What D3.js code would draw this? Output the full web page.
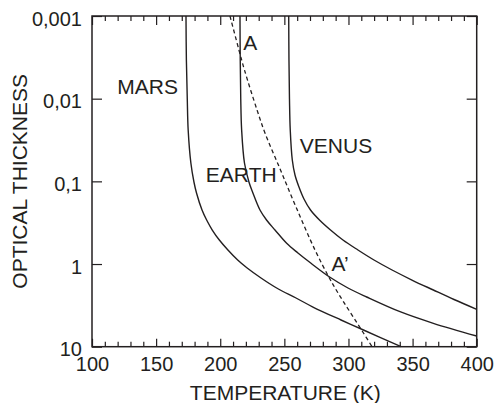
<!DOCTYPE html>
<html>
<head>
<meta charset="utf-8">
<script src="https://cdn.jsdelivr.net/npm/d3@7"></script>
<style>
  html, body { margin: 0; padding: 0; background: #fff; }
  svg { display: block; }
  text { font-family: "Liberation Sans", Arial, Helvetica, sans-serif; fill: #231f20; }
</style>
</head>
<body>
<script>
// ---- data ----
const xMajorTicks = [100, 150, 200, 250, 300, 350, 400];
const xMinorTicks = [110,120,130,140,160,170,180,190,210,220,230,240,260,270,280,290,310,320,330,340,360,370,380,390];
const yTicks = [0.001, 0.01, 0.1, 1, 10];
const yTickLabels = ["0,001", "0,01", "0,1", "1", "10"];

const marsTemp = [173.3, 173.6, 174.3, 175.0, 177.1, 179.5, 181.5, 185.8, 189.4, 193.8, 199.3, 206.0, 213.6, 221.0, 231.8, 244.0, 259.1, 272.3, 294.2, 311.7, 341.0];
const marsTau  = [0.001, 0.003406, 0.01009, 0.02393, 0.05998, 0.1018, 0.1383, 0.2221, 0.2934, 0.3877, 0.5122, 0.6767, 0.8939, 1.117, 1.476, 1.950, 2.576, 3.310, 4.754, 6.281, 10];

const earthTemp = [215.4, 215.6, 216.0, 216.7, 218.9, 222.4, 225.2, 231.0, 236.1, 242.7, 251.8, 260.6, 270.8, 285.6, 299.6, 314.2, 340.2, 366.2, 400.0];
const earthTau  = [0.001, 0.003406, 0.01009, 0.02393, 0.05998, 0.1018, 0.1345, 0.2221, 0.2934, 0.3877, 0.5614, 0.7356, 0.9799, 1.447, 1.950, 2.505, 3.773, 5.212, 7.42];

const venusTemp = [253.4, 253.6, 254.0, 254.6, 256.2, 258.3, 261.4, 265.3, 270.4, 277.4, 286.0, 295.7, 307.4, 319.9, 334.0, 349.5, 366.2, 382.3, 400.0];
const venusTau  = [0.001, 0.003406, 0.01009, 0.02393, 0.05517, 0.08379, 0.1171, 0.1635, 0.2221, 0.2934, 0.3877, 0.5122, 0.6767, 0.8939, 1.181, 1.561, 2.062, 2.686, 3.528];

const dashTemp = [207.6, 214.6, 218.9, 228.7, 234.9, 247.0, 259.1, 273.9, 284.8, 291.4, 311.7, 318.4];
const dashTau  = [0.001, 0.002577, 0.004498, 0.01371, 0.02602, 0.07291, 0.2043, 0.6767, 1.447, 2.180, 6.829, 10];

const labelTexts = ["MARS", "A", "VENUS", "EARTH", "A\u2019"];
const labelTemp  = [119.7, 217.9, 262.1, 188.8, 286.8];
const labelTau   = [0.0088, 0.00258, 0.0448, 0.103, 1.23];

// ---- layout ----
const W = 504, H = 403;
const m = { left: 92, right: 27.3, top: 16, bottom: 56.3 };
const ink = "#231f20";

const svg = d3.select("body").append("svg").attr("width", W).attr("height", H);

const x = d3.scaleLinear().domain([100, 400]).range([m.left, W - m.right]);
const y = d3.scaleLog().domain([0.001, 10]).range([m.top, H - m.bottom]);

// axes
svg.append("g").attr("transform", `translate(0,${H - m.bottom})`)
  .call(d3.axisBottom(x).tickValues(xMajorTicks).tickSize(-8).tickPadding(10).tickFormat(d3.format("d")));
svg.append("g").attr("transform", `translate(0,${H - m.bottom})`)
  .call(d3.axisBottom(x).tickValues(xMinorTicks).tickSize(-5).tickFormat(""));
svg.append("g").attr("transform", `translate(0,${m.top})`)
  .call(d3.axisTop(x).tickValues(xMajorTicks).tickSize(-9).tickFormat(""));
svg.append("g").attr("transform", `translate(0,${m.top})`)
  .call(d3.axisTop(x).tickValues(xMinorTicks).tickSize(-5).tickFormat(""));

const gy = svg.append("g").attr("transform", `translate(${m.left},0)`)
  .call(d3.axisLeft(y).tickValues(yTicks).tickSize(-10).tickPadding(10).tickFormat((d, i) => yTickLabels[i]));
svg.append("g").attr("transform", `translate(${W - m.right},0)`)
  .call(d3.axisRight(y).tickValues(yTicks).tickSize(-10).tickFormat(""));

svg.selectAll(".domain").remove();
svg.selectAll(".tick line").attr("stroke", ink).attr("stroke-width", 1.2);
svg.selectAll(".tick text").attr("font-size", 20).attr("fill", ink)
  .style("font-family", '"Liberation Sans", Arial, sans-serif');
gy.selectAll(".tick text").attr("dy", "0.45em");

// frame
svg.append("rect")
  .attr("x", m.left).attr("y", m.top)
  .attr("width", W - m.left - m.right).attr("height", H - m.top - m.bottom)
  .attr("fill", "none").attr("stroke", ink).attr("stroke-width", 1.5);

// curves
const line = d3.line().x(d => x(d[0])).y(d => y(d[1])).curve(d3.curveCatmullRom.alpha(0.5));
const zip = (a, b) => a.map((v, i) => [v, b[i]]);

const g = svg.append("g");
[[marsTemp, marsTau], [earthTemp, earthTau], [venusTemp, venusTau]].forEach(([t, tau]) => {
  g.append("path").attr("d", line(zip(t, tau)))
    .attr("fill", "none").attr("stroke", ink).attr("stroke-width", 1.4);
});
g.append("path").attr("d", line(zip(dashTemp, dashTau)))
  .attr("fill", "none").attr("stroke", ink).attr("stroke-width", 1.3)
  .attr("stroke-dasharray", "4,3");

// labels
labelTexts.forEach((t, i) => {
  svg.append("text").attr("x", x(labelTemp[i])).attr("y", y(labelTau[i]))
    .attr("font-size", 21).text(t);
});

// axis titles
svg.append("text").attr("x", (m.left + W - m.right) / 2 + 1).attr("y", 400)
  .attr("text-anchor", "middle").attr("font-size", 21).text("TEMPERATURE (K)");
svg.append("text").attr("transform", `translate(26.5,${(m.top + H - m.bottom) / 2}) rotate(-90)`)
  .attr("text-anchor", "middle").attr("font-size", 21).text("OPTICAL THICKNESS");
</script>
</body>
</html>
